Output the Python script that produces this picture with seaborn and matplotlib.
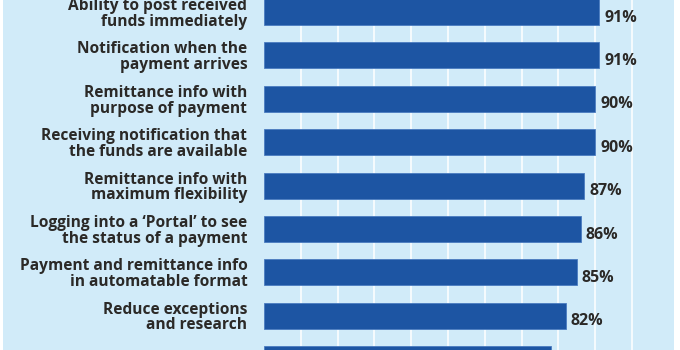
import matplotlib
matplotlib.use("Agg")
import matplotlib.pyplot as plt
import seaborn as sns
import pandas as pd
from matplotlib.patches import Rectangle

categories = [
    "Ability to post received\nfunds immediately",
    "Notification when the\npayment arrives",
    "Remittance info with\npurpose of payment",
    "Receiving notification that\nthe funds are available",
    "Remittance info with\nmaximum flexibility",
    "Logging into a \u2018Portal\u2019 to see\nthe status of a payment",
    "Payment and remittance info\nin automatable format",
    "Reduce exceptions\nand research",
    "Logging into a bank (\u2018Email\u2019)\nfor remittance details",
]
values = [91, 91, 90, 90, 87, 86, 85, 82, 78]
value_labels = ["91%", "91%", "90%", "90%", "87%", "86%", "85%", "82%", "78%"]

BG = "#d1ebf9"
BAR = "#1d55a3"
TXT = "#2b2927"

sns.set_theme(style="white")
plt.rcParams["font.family"] = ["Open Sans", "DejaVu Sans"]

W, H = 680, 350
fig = plt.figure(figsize=(W / 100, H / 100), dpi=100, facecolor="white")
fig.patches.append(Rectangle((3 / W, 0), (674 - 3) / W, 1, transform=fig.transFigure,
                             facecolor=BG, edgecolor="none", zorder=-10))

ax = fig.add_axes([264 / W, 0, (674 - 264) / W, 1])
ax.set_facecolor(BG)

df = pd.DataFrame({"label": categories, "value": values})
sns.barplot(data=df, x="value", y="label", color=BAR, saturation=1, width=0.6,
            edgecolor="#4a7cc0", linewidth=0.6, ax=ax, zorder=3)

ax.set_xlim(0, 111.4)
ax.set_ylim(7.79, -0.276)
ax.set_xticks(range(10, 101, 10))
ax.set_xticklabels([])
ax.grid(axis="x", color="white", linewidth=1.4, alpha=0.8, zorder=0)
ax.grid(axis="y", visible=False)
ax.set_axisbelow(True)
for s in ax.spines.values():
    s.set_visible(False)
ax.set_xlabel("")
ax.set_ylabel("")
ax.tick_params(axis="y", length=0, pad=12)
ax.tick_params(axis="x", length=0)
for t in ax.get_yticklabels():
    t.set_fontweight("bold")
    t.set_fontsize(11.2)
    t.set_color(TXT)
    t.set_horizontalalignment("right")
    t.set_linespacing(0.98)

for i, (v, lab) in enumerate(zip(values, value_labels)):
    ax.text(v + 1.4, i + 0.13, lab, ha="left", va="center", fontsize=11.5,
            fontweight="bold", color=TXT, zorder=4)

fig.savefig("out.png", dpi=100, facecolor="white")
